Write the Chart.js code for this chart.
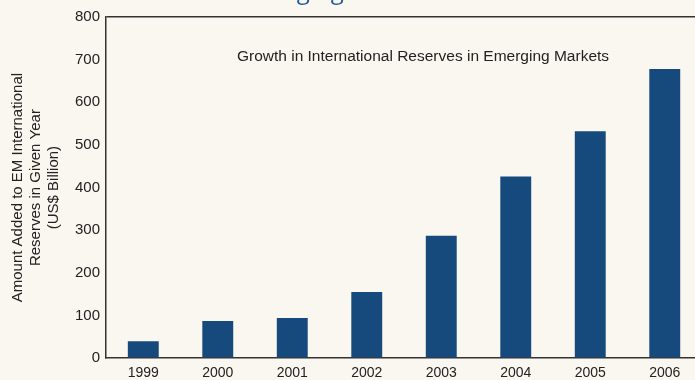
<!DOCTYPE html>
<html>
<head>
<meta charset="utf-8">
<script src="https://cdn.jsdelivr.net/npm/chart.js@4/dist/chart.umd.min.js"></script>
<style>
  html, body { margin: 0; padding: 0; background: #faf7f0; overflow: hidden; }
  #wrap { width: 720px; height: 389px; }
</style>
</head>
<body>
<div id="wrap"><canvas id="chart"></canvas></div>
<script>
const years = ['1999', '2000', '2001', '2002', '2003', '2004', '2005', '2006'];
const reservesAdded = [40, 87, 94, 155, 287, 426, 532, 678];
const yTicks = [0, 100, 200, 300, 400, 500, 600, 700, 800];
const innerTitle = 'Growth in International Reserves in Emerging Markets';
const topTitle = 'Emerging Markets';

const textPlugin = { // draws the cut-off heading and the title inside the plot
    id: 'texts',
    afterDraw(chart) {
        const ctx = chart.ctx;
        const area = chart.chartArea;
        ctx.save();
        ctx.fillStyle = '#1f5c9e';
        ctx.font = '24px "Open Sans"';
        ctx.textAlign = 'left';
        ctx.textBaseline = 'alphabetic';
        ctx.fillText(topTitle, 238, -1);
        ctx.fillStyle = '#222';
        ctx.font = '15.5px "Liberation Sans"';
        ctx.textAlign = 'center';
        ctx.textBaseline = 'middle';
        ctx.fillText(innerTitle, 423, area.top + 40);
        ctx.restore();
    }
};

const ctx = document.getElementById('chart').getContext('2d');
new Chart(ctx, {
    type: 'bar',
    data: {
        labels: years,
        datasets: [{
            data: reservesAdded,
            backgroundColor: '#164a7c',
            borderWidth: 0,
            categoryPercentage: 1,
            barPercentage: 0.415
        }]
    },
    options: {
        responsive: true,
        maintainAspectRatio: false,
        animation: false,
        layout: { padding: { top: 17, right: 18, left: 9, bottom: 0 } },
        plugins: {
            legend: { display: false },
            tooltip: { enabled: false }
        },
        scales: {
            x: {
                grid: { display: false, drawTicks: false },
                border: { display: true, color: '#333', width: 1.5 },
                ticks: { color: '#222', font: { family: "'Liberation Sans', Arial, sans-serif", size: 14 }, padding: 7, maxRotation: 0 }
            },
            y: {
                min: 0,
                max: 800,
                afterBuildTicks(scale) { scale.ticks = yTicks.map(v => ({ value: v })); },
                grid: {
                    drawTicks: false,
                    color: c => (c.tick && c.tick.value === 800 ? '#333' : 'rgba(0,0,0,0)'),
                    lineWidth: 1.5
                },
                border: { display: true, color: '#333', width: 1.5 },
                ticks: { color: '#222', font: { family: "'Liberation Sans', Arial, sans-serif", size: 15 }, padding: 6 },
                title: {
                    display: true,
                    text: ['Amount Added to EM International', 'Reserves in Given Year', '(US$ Billion)'],
                    color: '#222',
                    font: { family: "'Liberation Sans', Arial, sans-serif", size: 15, lineHeight: 1.2 },
                    padding: { top: 0, bottom: 6 }
                }
            }
        }
    },
    plugins: [textPlugin]
});
</script>
</body>
</html>
